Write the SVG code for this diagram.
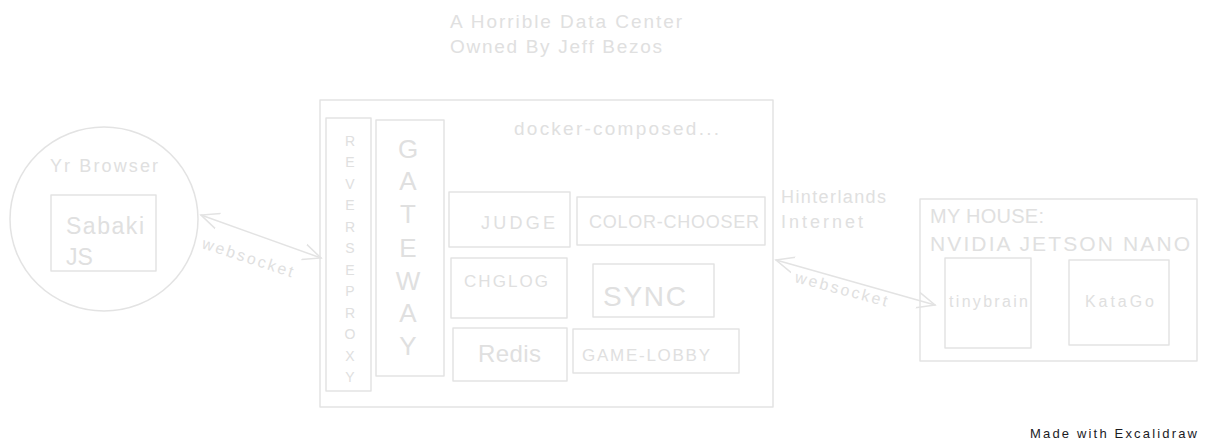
<svg xmlns="http://www.w3.org/2000/svg" width="1207" height="443" viewBox="0 0 1207 443">
<defs>
<style>
.s{fill:none;stroke:#e3e3e3;stroke-width:1.5;stroke-linecap:round;stroke-linejoin:round}
.t{fill:#e0e0e0;font-family:"Liberation Sans",Arial,sans-serif}
.v{text-anchor:middle}
</style>
<marker id="ah" viewBox="0 0 20 20" refX="18" refY="10" markerWidth="20" markerHeight="20" markerUnits="userSpaceOnUse" orient="auto-start-reverse">
<path d="M0 2 L18 10 L0 18" fill="none" stroke="#e3e3e3" stroke-width="1.5"/>
</marker>
</defs>
<rect width="1207" height="443" fill="#ffffff"/>
<g id="title">
<text class="t" x="450" y="28" font-size="19" textLength="232">A Horrible Data Center</text>
<text class="t" x="450" y="53" font-size="19" textLength="212">Owned By Jeff Bezos</text>
</g>
<g id="browser">
<ellipse class="s" cx="104" cy="219" rx="94" ry="92"/>
<text class="t" x="50" y="172" font-size="18" textLength="108">Yr Browser</text>
</g>
<g id="sabaki">
<rect class="s" x="51" y="195" width="105" height="76"/>
<text class="t" x="66" y="234" font-size="23" textLength="78">Sabaki</text>
<text class="t" x="66" y="265" font-size="23">JS</text>
</g>
<g id="datacenter">
<rect class="s" x="320" y="100" width="453" height="307"/>
<text class="t" x="514" y="135" font-size="19" textLength="205">docker-composed...</text>
</g>
<g id="reverseproxy">
<rect class="s" x="326" y="118" width="45" height="273"/>
<text class="t v" font-size="14">
<tspan x="350" y="146">R</tspan><tspan x="350" y="167">E</tspan><tspan x="350" y="189">V</tspan><tspan x="350" y="210">E</tspan><tspan x="350" y="232">R</tspan><tspan x="350" y="253">S</tspan><tspan x="350" y="275">E</tspan><tspan x="350" y="296">P</tspan><tspan x="350" y="318">R</tspan><tspan x="350" y="339">O</tspan><tspan x="350" y="361">X</tspan><tspan x="350" y="382">Y</tspan>
</text>
</g>
<g id="gateway">
<rect class="s" x="376" y="120" width="68" height="256"/>
<text class="t v" font-size="26">
<tspan x="408" y="158">G</tspan><tspan x="408" y="190">A</tspan><tspan x="408" y="223">T</tspan><tspan x="408" y="257">E</tspan><tspan x="408" y="290">W</tspan><tspan x="408" y="322">A</tspan><tspan x="408" y="355">Y</tspan>
</text>
</g>
<g id="judge">
<rect class="s" x="449" y="192" width="121" height="55"/>
<text class="t" x="481" y="229" font-size="18" textLength="74">JUDGE</text>
</g>
<g id="colorchooser">
<rect class="s" x="577" y="197" width="188" height="48"/>
<text class="t" x="589" y="228" font-size="18" textLength="170">COLOR-CHOOSER</text>
</g>
<g id="chglog">
<rect class="s" x="451" y="258" width="116" height="60"/>
<text class="t" x="464" y="287" font-size="17" textLength="84">CHGLOG</text>
</g>
<g id="sync">
<rect class="s" x="593" y="264" width="121" height="53"/>
<text class="t" x="603" y="306" font-size="28" textLength="83">SYNC</text>
</g>
<g id="redis">
<rect class="s" x="453" y="328" width="114" height="53"/>
<text class="t" x="478" y="362" font-size="24" textLength="63">Redis</text>
</g>
<g id="gamelobby">
<rect class="s" x="573" y="329" width="166" height="44"/>
<text class="t" x="582" y="361" font-size="17" textLength="128">GAME-LOBBY</text>
</g>
<g id="internetlabel">
<text class="t" x="781" y="203" font-size="18" textLength="105">Hinterlands</text>
<text class="t" x="781" y="228" font-size="18" textLength="82">Internet</text>
</g>
<g id="myhouse">
<rect class="s" x="920" y="199" width="277" height="162"/>
<text class="t" x="930" y="223" font-size="20" textLength="114">MY HOUSE:</text>
<text class="t" x="930" y="251" font-size="21" textLength="260">NVIDIA JETSON NANO</text>
</g>
<g id="tinybrain">
<rect class="s" x="945" y="258" width="86" height="90"/>
<text class="t" x="949" y="307" font-size="16" textLength="79">tinybrain</text>
</g>
<g id="katago">
<rect class="s" x="1069" y="260" width="100" height="85"/>
<text class="t" x="1085" y="307" font-size="16" textLength="69">KataGo</text>
</g>
<g id="connectors">
<line class="s" x1="201" y1="215" x2="321" y2="258" marker-start="url(#ah)" marker-end="url(#ah)"/>
<text class="t" x="201" y="248" font-size="16" textLength="95" transform="rotate(18 201 248)">websocket</text>
<line class="s" x1="776" y1="260" x2="935" y2="305" marker-start="url(#ah)" marker-end="url(#ah)"/>
<text class="t" x="794" y="282" font-size="16" textLength="95" transform="rotate(15 794 282)">websocket</text>
</g>
<g id="footer">
<text x="1030" y="438" font-size="13" fill="#1b1b1f" font-family="Liberation Sans,Arial,sans-serif" textLength="167">Made with Excalidraw</text>
</g>
</svg>
